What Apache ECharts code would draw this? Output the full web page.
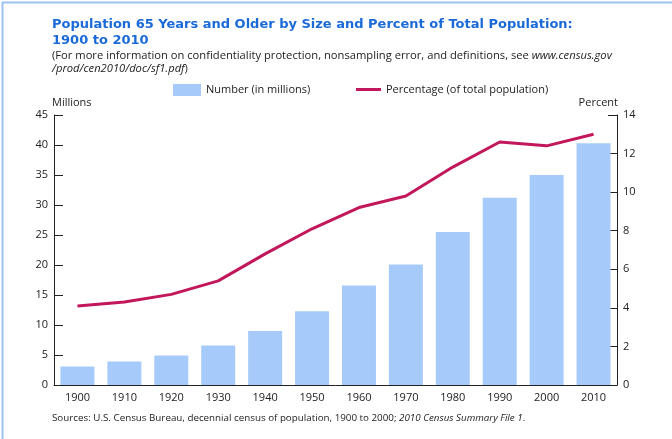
<!doctype html>
<html lang="en">
<head>
    <meta charset="UTF-8">
    <script src="https://cdn.jsdelivr.net/npm/echarts@6/dist/echarts.min.js"></script>
    <title>Population 65 Years and Older</title>
    <style>
        html, body { margin: 0; padding: 0; background: #fff; }
    </style>
</head>
<body>
<div id="main" style="width: 672px;height:439px;"></div>
<script>
    // data
    var years = ['1900', '1910', '1920', '1930', '1940', '1950', '1960', '1970', '1980', '1990', '2000', '2010'];
    var millions = [3.1, 3.9, 4.9, 6.6, 9.0, 12.3, 16.6, 20.1, 25.5, 31.2, 35.0, 40.3];
    var percents = [4.1, 4.3, 4.7, 5.4, 6.8, 8.1, 9.2, 9.8, 11.3, 12.6, 12.4, 13.0];

    var textFont = '"Open Sans", "DejaVu Sans", sans-serif';
    var myChart = echarts.init(document.getElementById('main'));

    var option = {
        backgroundColor: '#fff',
        animation: false,
        textStyle: { fontFamily: textFont },
        graphic: [
            // thin blue frame round the figure
            { type: 'rect', left: 0, top: 0, shape: { width: 671, height: 438 },
              style: { fill: 'none', stroke: '#9dc2ee', lineWidth: 2 } },
            { type: 'text', left: 52, top: 17, style: {
                text: 'Population 65 Years and Older by Size and Percent of Total Population:\n1900 to 2010',
                font: 'bold 13px "DejaVu Sans", sans-serif', fill: '#1a6ad8', lineHeight: 16 } },
            { type: 'text', left: 52, top: 50, style: {
                text: '{n|(For more information on confidentiality protection, nonsampling error, and definitions, see }{i|www.census.gov}\n{i|/prod/cen2010/doc/sf1.pdf}{n|)}',
                rich: {
                    n: { font: '11.2px ' + textFont, fill: '#222', lineHeight: 13 },
                    i: { font: 'italic 11.2px ' + textFont, fill: '#222', lineHeight: 13 }
                } } },
            { type: 'text', left: 52, top: 97, style: { text: 'Millions', font: '11px ' + textFont, fill: '#222' } },
            { type: 'text', right: 54, top: 97, style: { text: 'Percent', font: '11px ' + textFont, fill: '#222' } },
            { type: 'text', left: 52, top: 413, style: {
                text: '{n|Sources: U.S. Census Bureau, decennial census of population, 1900 to 2000; }{i|2010 Census Summary File 1}{n|.}',
                rich: {
                    n: { font: '9.8px ' + textFont, fill: '#222' },
                    i: { font: 'italic 9.8px ' + textFont, fill: '#222' }
                } } }
        ],
        legend: [
            {
                data: ['Number (in millions)'],
                left: 173, top: 84, padding: 0,
                itemWidth: 28, itemHeight: 12, icon: 'rect',
                textStyle: { fontSize: 11, color: '#222', fontFamily: textFont }
            },
            {
                data: ['Percentage (of total population)'],
                left: 356, top: 84, padding: 0,
                itemWidth: 25, itemHeight: 3, icon: 'rect',
                textStyle: { fontSize: 11, color: '#222', fontFamily: textFont }
            }
        ],
        grid: { left: 54, right: 55, top: 115, bottom: 54 },
        xAxis: {
            type: 'category',
            data: years,
            axisLine: { lineStyle: { color: '#222', width: 1 } },
            axisTick: { show: false },
            axisLabel: { color: '#222', fontSize: 11, margin: 7, fontFamily: textFont }
        },
        yAxis: [
            {
                type: 'value', min: 0, max: 45, interval: 5,
                position: 'left',
                axisLine: { show: true, lineStyle: { color: '#222' } },
                axisTick: { show: true, inside: true, length: 9, lineStyle: { color: '#222' } },
                axisLabel: { color: '#222', fontSize: 11, margin: 6, fontFamily: textFont },
                splitLine: { show: false }
            },
            {
                type: 'value', min: 0, max: 14, interval: 2,
                position: 'right',
                axisLine: { show: true, lineStyle: { color: '#222' } },
                axisTick: { show: true, inside: true, length: 9, lineStyle: { color: '#222' } },
                axisLabel: { color: '#222', fontSize: 11, margin: 6, fontFamily: textFont },
                splitLine: { show: false }
            }
        ],
        series: [
            {
                name: 'Number (in millions)',
                type: 'bar',
                data: millions,
                barWidth: 34,
                itemStyle: { color: '#a6cbfa' }
            },
            {
                name: 'Percentage (of total population)',
                type: 'line',
                yAxisIndex: 1,
                data: percents,
                symbol: 'none',
                lineStyle: { color: '#c2185b', width: 3 },
                itemStyle: { color: '#c2185b' }
            }
        ]
    };

    myChart.setOption(option);
</script>
</body>
</html>
